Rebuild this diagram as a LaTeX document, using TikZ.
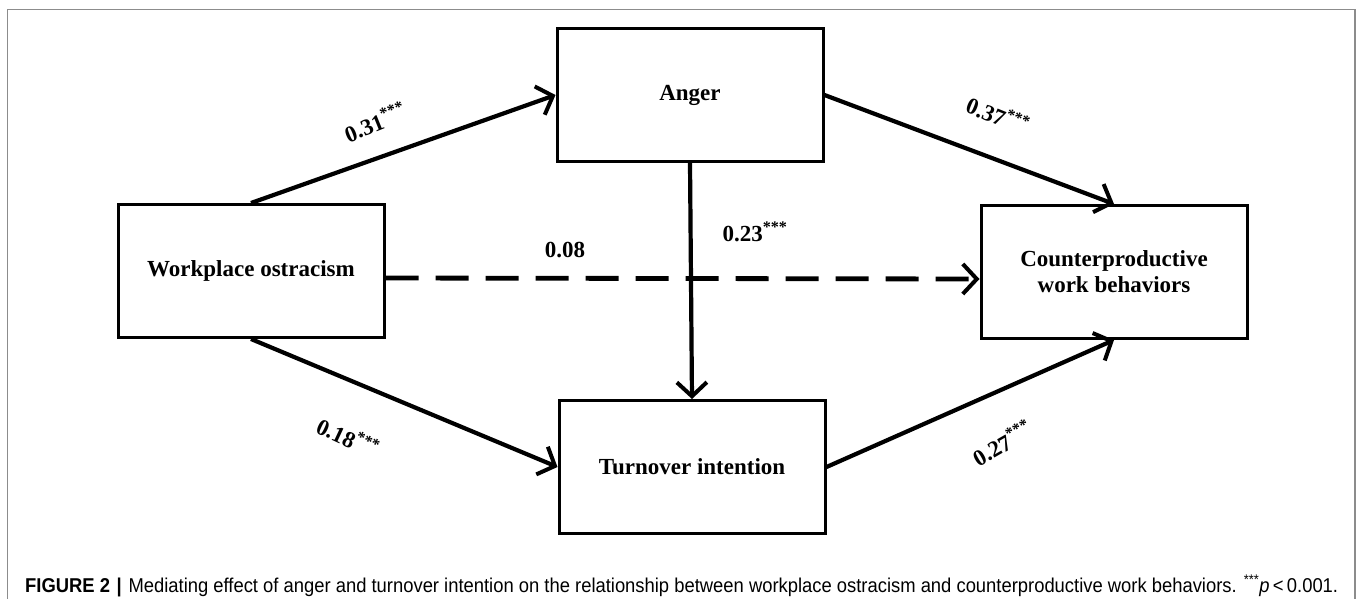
\documentclass[tikz,border=0pt]{standalone}
\usepackage{fontspec}
\setmainfont{Liberation Serif}
\newfontfamily\capfont[FakeStretch=0.92]{Liberation Sans}
\usetikzlibrary{arrows.meta,positioning,calc}

\begin{document}
\begin{tikzpicture}[
  x=1pt,y=-1pt,
  box/.style={draw=black, line width=3pt, minimum width=266pt, minimum height=133pt, align=center, font=\fontsize{23}{26}\selectfont\bfseries, inner sep=0pt},
  arrow/.style={-{Straight Barb[length=14pt,width=30pt,line width=4pt]}, line width=4.2pt, draw=black},
  coef/.style={font=\fontsize{23}{26}\selectfont\bfseries, inner sep=0pt}
]
\useasboundingbox (0,0) rectangle (1357,598);
\draw[black!45, line width=1.2pt] (7.5,600) -- (7.5,9.5) -- (1355,9.5) -- (1355,600);
\node[box] (ostracism) at (251,271) {Workplace ostracism};
\node[box] (anger) at (690,95) {Anger};
\node[box] (cwb) at (1114,272) {Counterproductive\\work behaviors};
\node[box] (turnover) at (692,467) {Turnover intention};
\draw[arrow] (ostracism.north) -- (anger.west);
\draw[arrow] (anger.east) -- (cwb.north);
\draw[arrow] (ostracism.south) -- (turnover.west);
\draw[arrow] (turnover.east) -- (cwb.south);
\draw[arrow] (anger.south) -- (turnover.north);
\draw[arrow, line width=4.8pt, dash pattern=on 33pt off 17pt] ([yshift=-7pt]ostracism.east) -- ([yshift=-7pt]cwb.west);
\node[coef, rotate=22] (c31) at (375,122) {0.31\textsuperscript{***}};
\node[coef, rotate=-22] (c37) at (998,115) {0.37\textsuperscript{***}};
\node[coef, rotate=-25] (c18) at (348,437) {0.18\textsuperscript{***}};
\node[coef, rotate=30] (c27) at (1002,443) {0.27\textsuperscript{***}};
\node[coef] (c08) at (565,250) {0.08};
\node[coef] (c23) at (755,232) {0.23\textsuperscript{***}};
\node[anchor=base west, inner sep=0pt, font=\capfont\fontsize{20}{22}\selectfont] (caption) at (25,592)
  {\textbf{FIGURE 2}\,\,\textbf{|}\,\,Mediating effect of anger and turnover intention on the relationship between workplace ostracism and counterproductive work behaviors. \textsuperscript{***}\textit{p}\,<\,0.001.};
\end{tikzpicture}
\end{document}
